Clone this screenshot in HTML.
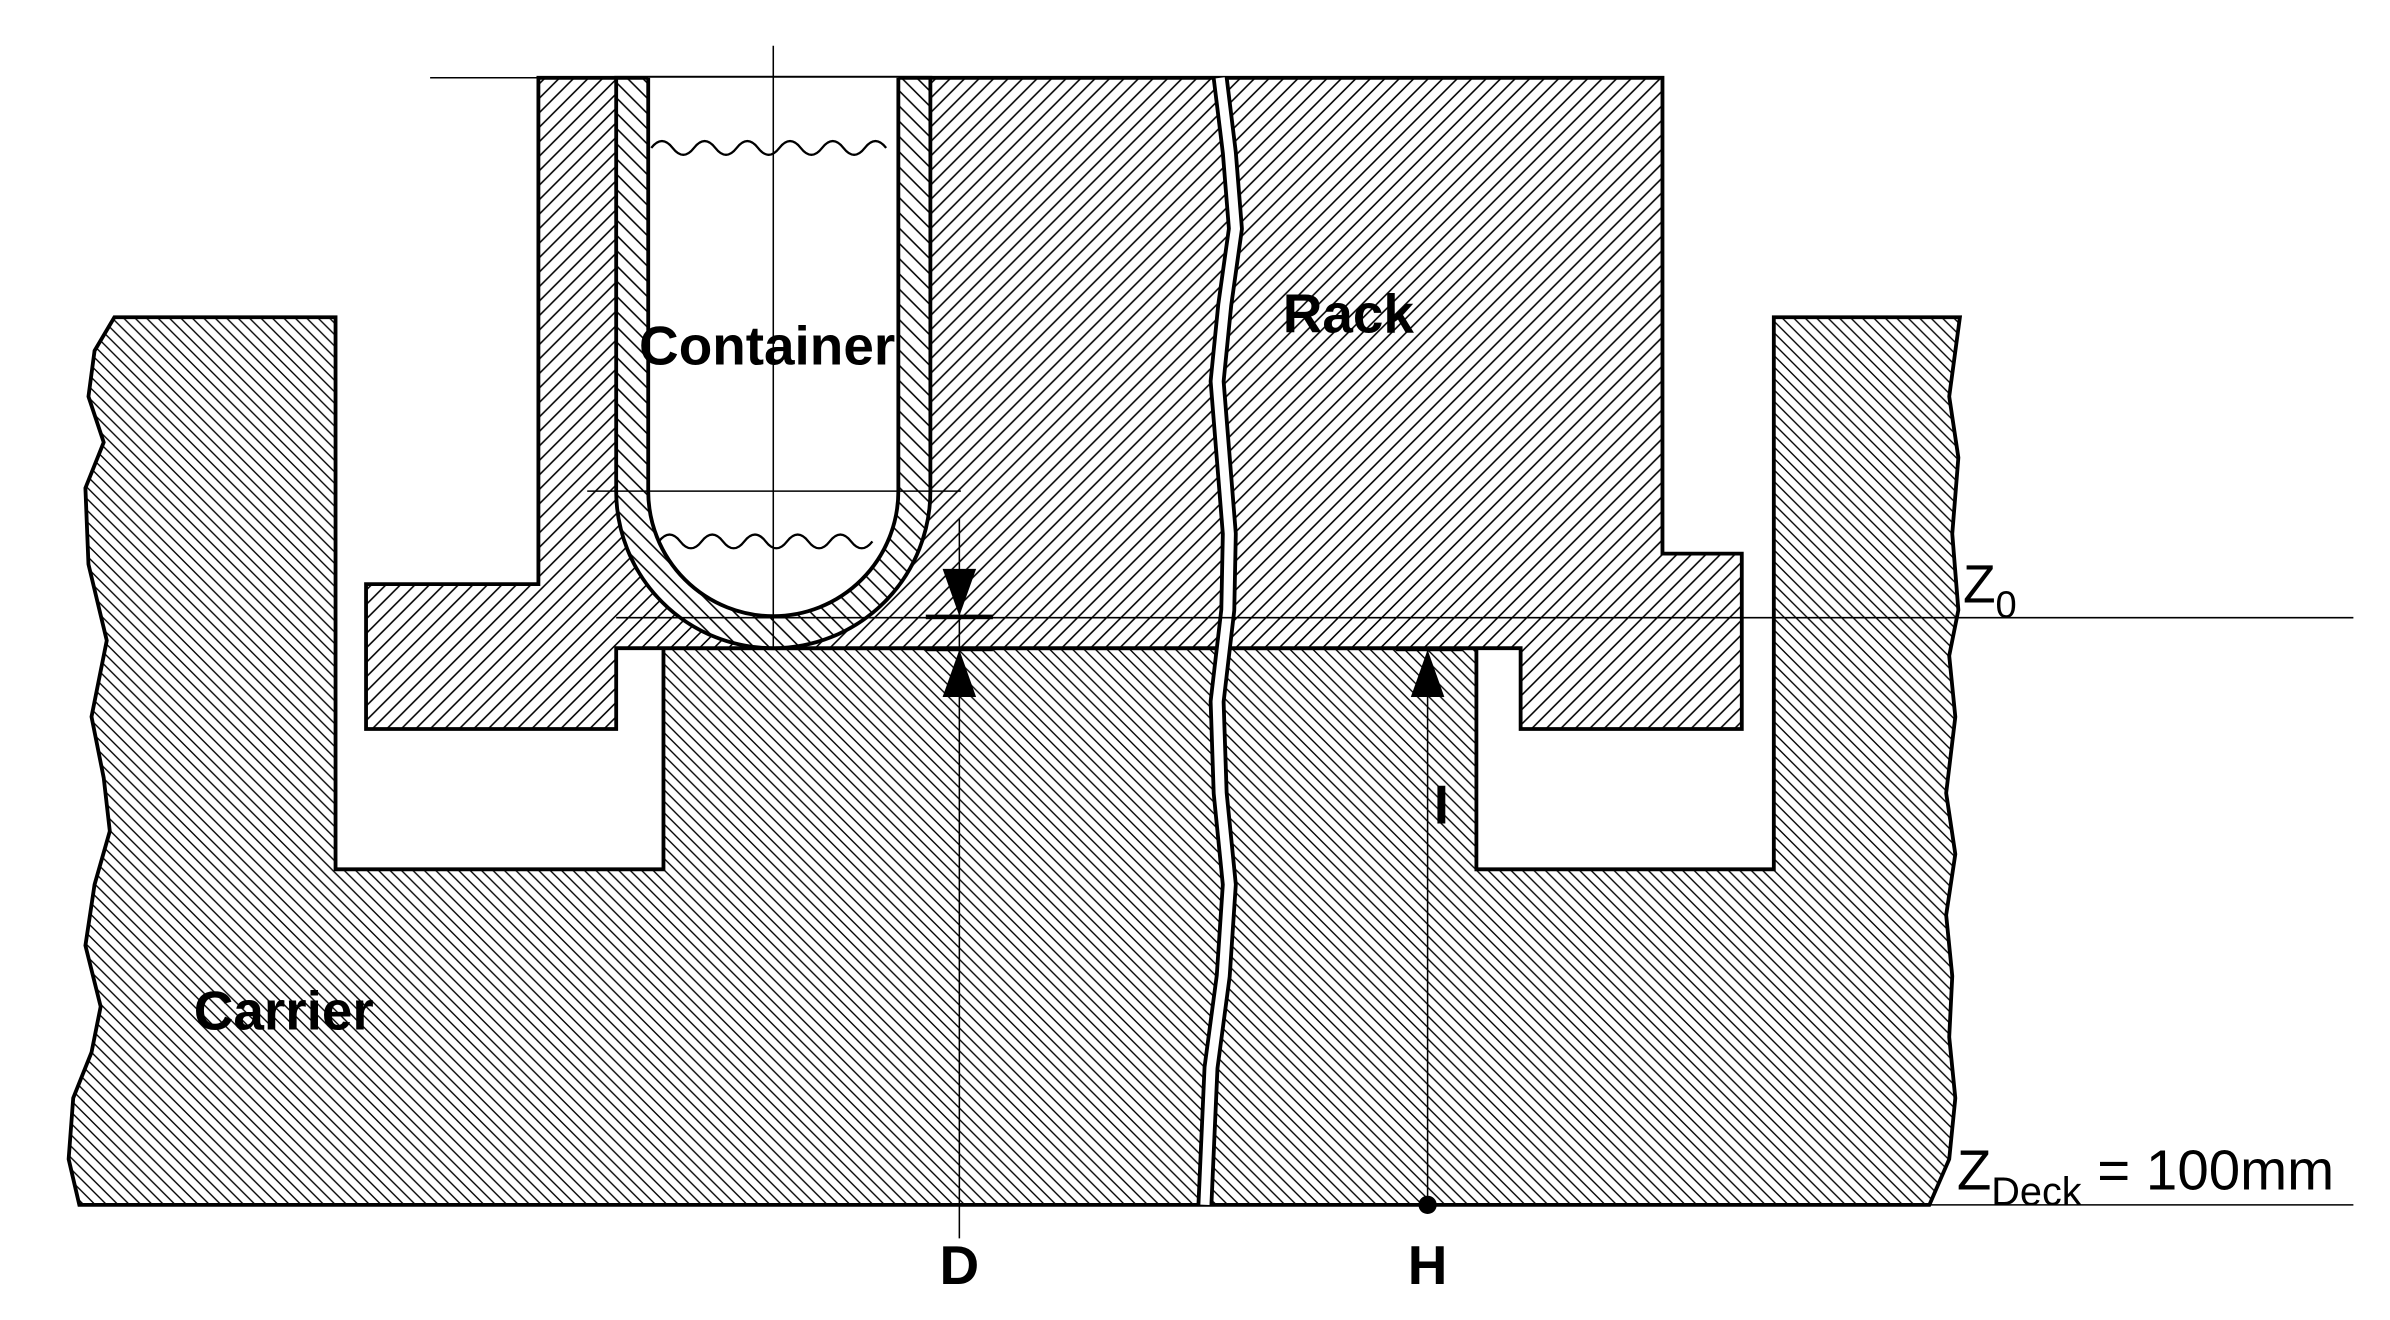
<!DOCTYPE html>
<html><head><meta charset="utf-8"><style>
html,body{margin:0;padding:0;background:#fff;}
svg{display:block;}
text{font-family:"Liberation Sans",sans-serif;}
</style></head><body>
<svg width="2390" height="1320" viewBox="0 0 1567 865.5" preserveAspectRatio="none" xmlns="http://www.w3.org/2000/svg">
<defs>
<pattern id="hRack" patternUnits="userSpaceOnUse" width="9.5" height="9.5"><rect width="9.5" height="9.5" fill="#fff"/><path d="M-1,1 L1,-1 M0,9.5 L9.5,0 M8.5,10.5 L10.5,8.5" stroke="#000" stroke-width="1"/></pattern>
<pattern id="hCar" patternUnits="userSpaceOnUse" width="7.5" height="7.5"><rect width="7.5" height="7.5" fill="#fff"/><path d="M-1,-1 L8.5,8.5 M-1,6.5 L1,8.5 M6.5,-1 L8.5,1" stroke="#000" stroke-width="0.9"/></pattern>
<pattern id="hTube" patternUnits="userSpaceOnUse" width="10" height="10"><rect width="10" height="10" fill="#fff"/><path d="M-1,-1 L11,11 M-1,9 L1,11 M9,-1 L11,1" stroke="#000" stroke-width="1"/></pattern>
</defs>
<rect width="1567" height="865.5" fill="#fff"/>

<path fill="url(#hCar)" stroke="#000" stroke-width="2.5"
 d="M75,208 L62,230 L58,260 L68,290 L56,320 L58,370 L70,420 L60,470 L68,510 L72,545 L62,580 L56,620 L66,660 L60,690 L48,720 L45,760 L52,790 L1265,790 L1278,760 L1282,720 L1278,680 L1280,640 L1276,600 L1282,560 L1276,520 L1282,470 L1278,430 L1284,400 L1280,350 L1284,300 L1278,260 L1285,208 L1163,208 L1163,570 L968,570 L968,425 L435,425 L435,570 L220,570 L220,208 Z"/>

<path fill="url(#hRack)" stroke="#000" stroke-width="2.5"
 d="M353,51 L1090,51 L1090,363 L1142,363 L1142,478 L997,478 L997,425 L404,425 L404,478 L240,478 L240,383 L353,383 Z"/>

<path fill="url(#hTube)" stroke="#000" stroke-width="2.5"
 d="M404,51 L404,322 A103,103 0 0 0 610,322 L610,51 Z"/>
<path fill="#fff" stroke="#000" stroke-width="2.5"
 d="M425,51 L425,322 A82,82 0 0 0 589,322 L589,51"/>
<path fill="none" stroke="#000" stroke-width="1.5"
 d="M427,97 q7,-9 14,0 t14,0 t14,0 t14,0 t14,0 t14,0 t14,0 t14,0 t14,0 t14,0 t14,0"/>
<path fill="none" stroke="#000" stroke-width="1.5"
 d="M432,355 q7,-9 14,0 t14,0 t14,0 t14,0 t14,0 t14,0 t14,0 t14,0 t14,0 t14,0"/>

<g>
<path d="M800,51 L806,100 L810,150 L803,200 L798,250 L802,300 L806,350 L805,400 L798,460 L800,520 L806,580 L802,640 L794,700 L790,790" fill="none" stroke="#000" stroke-width="11"/>
<path d="M800,51 L806,100 L810,150 L803,200 L798,250 L802,300 L806,350 L805,400 L798,460 L800,520 L806,580 L802,640 L794,700 L790,790" fill="none" stroke="#fff" stroke-width="6"/>
</g>

<g stroke="#000" stroke-width="1" fill="none">
<line x1="282" y1="51" x2="353" y2="51"/>
<line x1="507" y1="30" x2="507" y2="425"/>
<line x1="385" y1="322" x2="630" y2="322"/>
<line x1="404" y1="405" x2="1543" y2="405"/>
<line x1="1265" y1="790" x2="1543" y2="790"/>
<line x1="629" y1="340" x2="629" y2="812"/>
<line x1="936" y1="425" x2="936" y2="790"/>
</g>

<g fill="#000">
<polygon points="618,373 640,373 629,404"/>
<rect x="607" y="403" width="44" height="3"/>
<rect x="607" y="424" width="44" height="3"/>
<polygon points="618,457 640,457 629,426"/>
</g>
<g fill="#000">
<rect x="915" y="424" width="44" height="3"/>
<polygon points="925,457 947,457 936,426"/>
<circle cx="936" cy="790" r="6"/>
</g>

<g font-weight="bold" fill="#000" font-size="36">
<text x="419" y="239">Container</text>
<text x="841" y="218">Rack</text>
<text x="127" y="675">Carrier</text>
<text x="940" y="540">I</text>
<text x="629" y="842" text-anchor="middle">D</text>
<text x="936" y="842" text-anchor="middle">H</text>
</g>
<text x="1287" y="395" font-size="35">Z<tspan font-size="25" dy="10">0</tspan></text>
<text x="1283" y="780" font-size="37">Z<tspan font-size="26" dy="10">Deck</tspan><tspan dy="-10"> = 100mm</tspan></text>
</svg>
</body></html>
